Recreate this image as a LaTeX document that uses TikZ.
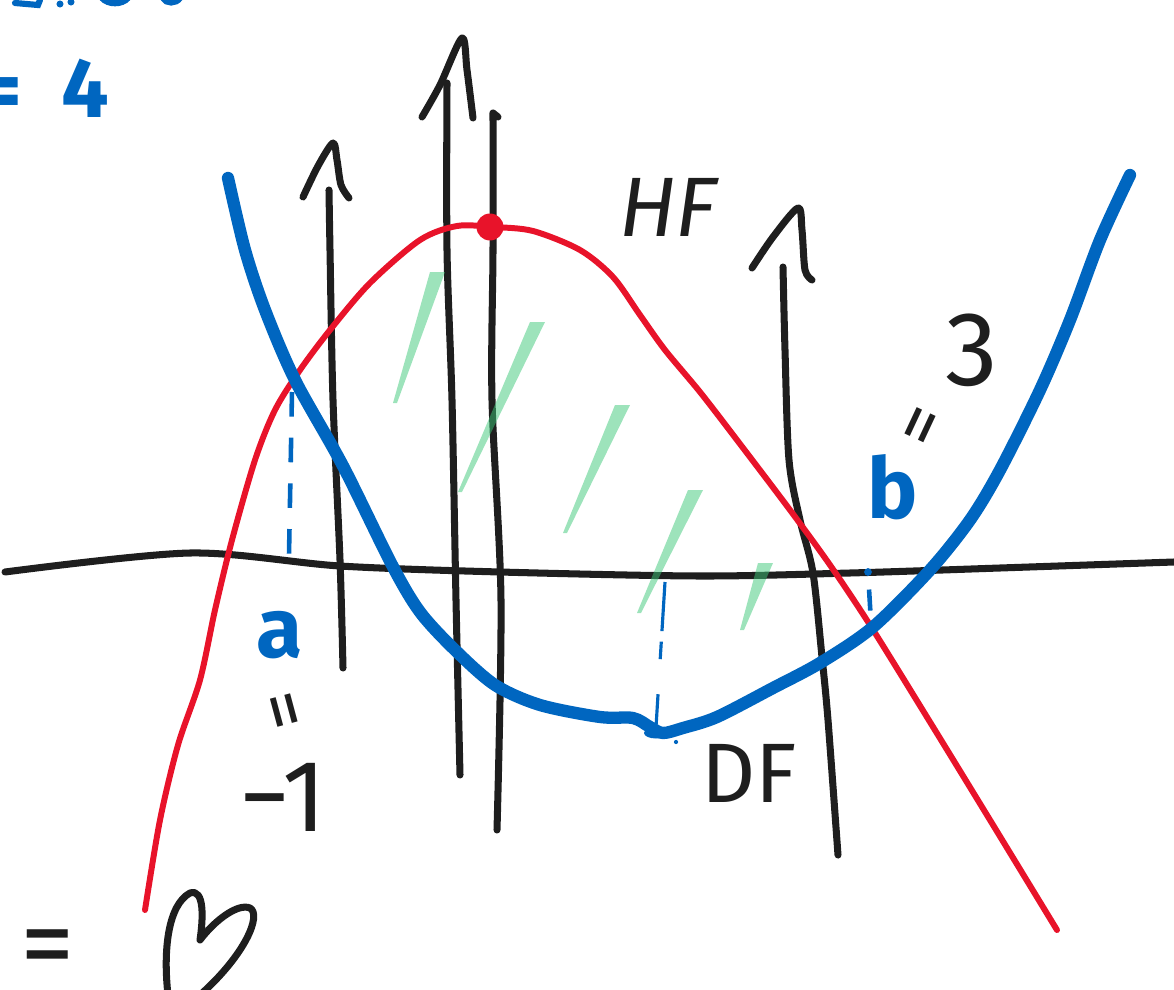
\documentclass[tikz,border=0pt]{standalone}
\usepackage{fontspec}
\setmainfont{Fira Sans}
\usetikzlibrary{shapes.geometric}
\definecolor{inkblack}{RGB}{30,30,30}
\definecolor{inkblue}{RGB}{0,102,192}
\definecolor{inkred}{RGB}{232,19,42}
\definecolor{inkgreen}{RGB}{60,200,120}
\tikzset{
  penline/.style={draw=inkblack, line width=4pt, line cap=round, line join=round},
  redgraph/.style={draw=inkred, line width=3.4pt, line cap=round},
  bluegraph/.style={draw=inkblue, line width=7pt, line cap=round},
  hatchmark/.style={fill=inkgreen, fill opacity=0.5},
  bluedash/.style={draw=inkblue, line width=2.6pt, dash pattern=on 14pt off 12pt},
  lbl/.style={inner sep=0pt, text=inkblack, font=\fontsize{48}{48}\selectfont},
  bluelbl/.style={inner sep=0pt, text=inkblue, font=\bfseries\fontsize{48}{48}\selectfont}
}

\begin{document}
\begin{tikzpicture}[x=0.02cm, y=-0.02cm]
    \useasboundingbox (0,0) rectangle (1174,990);
    % x-axis
    \draw[penline] plot[smooth] coordinates {(5,572) (190,553) (340,566) (500,572) (700,576) (850,573) (1000,568) (1174,562)};
    % vertical lines and arrows
    \draw[penline] plot[smooth] coordinates {(343,668) (340,560) (333,400) (330,250) (329,190)};
    \draw[penline] plot[smooth] coordinates {(303,197) (318,166) (333,143) (337,160) (341,185) (349,198)};
    \draw[penline] plot[smooth] coordinates {(460,775) (456,600) (452,400) (447,250) (447,83)};
    \draw[penline] plot[smooth] coordinates {(422,117) (440,85) (462,38) (467,70) (473,118)};
    \draw[penline] plot[smooth] coordinates {(497,830) (501,600) (492,400) (493,250) (493,113)} -- (498,117);
    \draw[penline] plot[smooth] coordinates {(838,855) (828,720) (822,657) (813,573) (800,520) (789,460) (785,350) (783,267)};
    \draw[penline] plot[smooth] coordinates {(752,268) (773,237) (798,208) (802,230) (805,270) (812,280)};
    % red graph
    \draw[redgraph] plot[smooth] coordinates {(145,910) (160,820) (178,745) (200,680) (215,610) (232,540) (255,460) (275,410) (300,370) (330,330) (370,283) (420,240) (457,226) (493,227) (533,231) (580,250) (613,277) (640,315) (665,350) (700,392) (737,440) (790,510) (830,565) (870,625) (930,722) (990,820) (1057,930)};
    % blue graph
    \draw[bluegraph] plot[smooth] coordinates {(228,178) (245,250) (265,310) (295,380) (343,466) (392,565) (420,612) (455,650) (495,685) (540,705) (600,717) (633,718) (650,727) (663,733) (683,728) (717,717) (773,688) (820,663) (873,627) (930,570) (970,520) (1000,470) (1040,390) (1070,320) (1100,240) (1130,175)};
    % green hatching
    \foreach \bx/\by/\tx/\ty in {393/403/437/272, 458/492/537/322, 563/533/622/405, 637/613/695/490, 740/630/765/563}
      \fill[hatchmark] (\bx,\by) -- (\bx+4,\by) -- (\tx+8,\ty) -- (\tx-7,\ty) -- cycle;
    % extreme points
    \node[circle, fill=inkred, inner sep=0pt, minimum size=0.54cm] (hfpt) at (490,227) {};
    \node[ellipse, fill=inkblue, inner sep=0pt, minimum width=0.48cm, minimum height=0.22cm] (dfpt) at (656,733) {};
    \fill[inkblue] (676,742) circle (1.2pt);
    % guides
    \coordinate (acurve) at (292,392);
    \coordinate (aaxis) at (289,555);
    \draw[bluedash] (acurve) -- (aaxis);
    \coordinate (dfaxis) at (665,582);
    \draw[draw=inkblue, line width=1.8pt, dash pattern=on 28pt off 6pt on 10pt off 20pt on 17pt off 4pt] (dfaxis) -- (dfpt.north);
    \coordinate (baxis) at (868,572);
    \coordinate (bcurve) at (871,622);
    \fill[inkblue] (baxis) circle (2.2pt);
    \draw[bluedash, dash pattern=on 0pt off 10pt on 12pt off 8pt] (baxis) -- (bcurve);
    % labels
    \node[lbl, font=\itshape\fontsize{48}{48}\selectfont] (hf) at (668,207) {HF};
    \node[lbl] (df) at (749,773) {DF};
    \node[bluelbl] (alabel) at (280,635) {a};
    \node[lbl, rotate=-75, font=\fontsize{44}{44}\selectfont] (aeq) at (277,713) {=};
    \node[lbl, font=\fontsize{58}{58}\selectfont] (aval) at (283,797) {−1};
    \node[bluelbl] (blabel) at (893,487) {b};
    \node[lbl, rotate=65, font=\fontsize{44}{44}\selectfont] (beq) at (927,428) {=};
    \node[lbl, font=\fontsize{60}{60}\selectfont] (bval) at (972,350) {3};
    \node[bluelbl, font=\bfseries\fontsize{48}{48}\selectfont] (four) at (85,88) {4};
    \node[bluelbl, font=\bfseries\fontsize{48}{48}\selectfont] (foureq) at (0,99) {=};
    \node[lbl, font=\fontsize{62}{62}\selectfont] (hearteq) at (48,955) {=};
    % heart
    \draw[penline] (168,995) .. controls (163,950) and (168,905) .. (190,893)
      .. controls (205,888) and (203,920) .. (200,940)
      .. controls (215,920) and (238,903) .. (250,908)
      .. controls (262,915) and (245,955) .. (200,995);
    % cut-off writing at the top
    \draw[inkblue, line width=3.5pt, line cap=round] (15,3) -- (38,5) -- (40,0);
    \fill[inkblue] (60,4) circle (2pt) (71,2) circle (2pt);
    \draw[inkblue, line width=3.5pt, line cap=round] (102,-2) .. controls (108,5) and (122,5) .. (128,-2);
    \draw[inkblue, line width=3.5pt, line cap=round] (163,-2) .. controls (166,4) and (176,4) .. (180,-2);
\end{tikzpicture}
\end{document}
